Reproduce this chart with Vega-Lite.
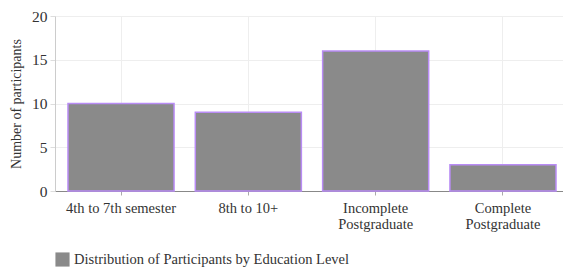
{
  "$schema": "https://vega.github.io/schema/vega-lite/v6.json",
  "autosize": "none",
  "width": 508,
  "height": 175,
  "padding": {"left": 55, "top": 16, "right": 0, "bottom": 77},
  "background": "white",
  "config": {
    "font": "Liberation Serif",
    "view": {"stroke": null},
    "axis": {"labelFont": "Liberation Serif", "titleFont": "Liberation Serif", "labelColor": "#333", "titleColor": "#333"}
  },
  "data": {"values": [
    {"level": "4th to 7th semester", "count": 10, "series": "Distribution of Participants by Education Level"},
    {"level": "8th to 10+", "count": 9, "series": "Distribution of Participants by Education Level"},
    {"level": "Incomplete Postgraduate", "count": 16, "series": "Distribution of Participants by Education Level"},
    {"level": "Complete Postgraduate", "count": 3, "series": "Distribution of Participants by Education Level"}
  ]},
  "mark": {"type": "bar", "stroke": "#b98cf5", "strokeWidth": 1.5},
  "encoding": {
    "x": {
      "field": "level", "type": "nominal", "sort": null,
      "scale": {"paddingInner": 0.167, "paddingOuter": 0.0785, "align": 0.65},
      "axis": {
        "title": null, "labelAngle": 0, "labelFontSize": 14.5, "labelPadding": 6,
        "labelLineHeight": 16,
        "labelExpr": "datum.value == 'Incomplete Postgraduate' ? ['Incomplete','Postgraduate'] : datum.value == 'Complete Postgraduate' ? ['Complete','Postgraduate'] : datum.value",
        "grid": true, "gridColor": "#eeeeee",
        "domainColor": "#888888", "tickColor": "#aaaaaa", "tickSize": 4
      }
    },
    "y": {
      "field": "count", "type": "quantitative",
      "scale": {"domain": [0, 20]},
      "axis": {
        "title": "Number of participants", "titleFontSize": 14, "titleFontWeight": "normal",
        "labelFontSize": 15.5, "values": [0, 5, 10, 15, 20], "labelOverlap": false,
        "gridColor": "#eeeeee", "domainColor": "#cccccc", "tickColor": "#dddddd", "tickSize": 5,
        "labelPadding": 3, "titlePadding": 8
      }
    },
    "color": {
      "field": "series", "type": "nominal",
      "scale": {"range": ["#8a8a8a"]},
      "legend": {
        "title": null, "orient": "none", "legendX": 0, "legendY": 236,
        "symbolType": "square", "symbolSize": 200, "symbolStrokeWidth": 0,
        "labelFontSize": 14.5, "labelFont": "Liberation Serif", "labelColor": "#333", "labelLimit": 500
      }
    }
  }
}
